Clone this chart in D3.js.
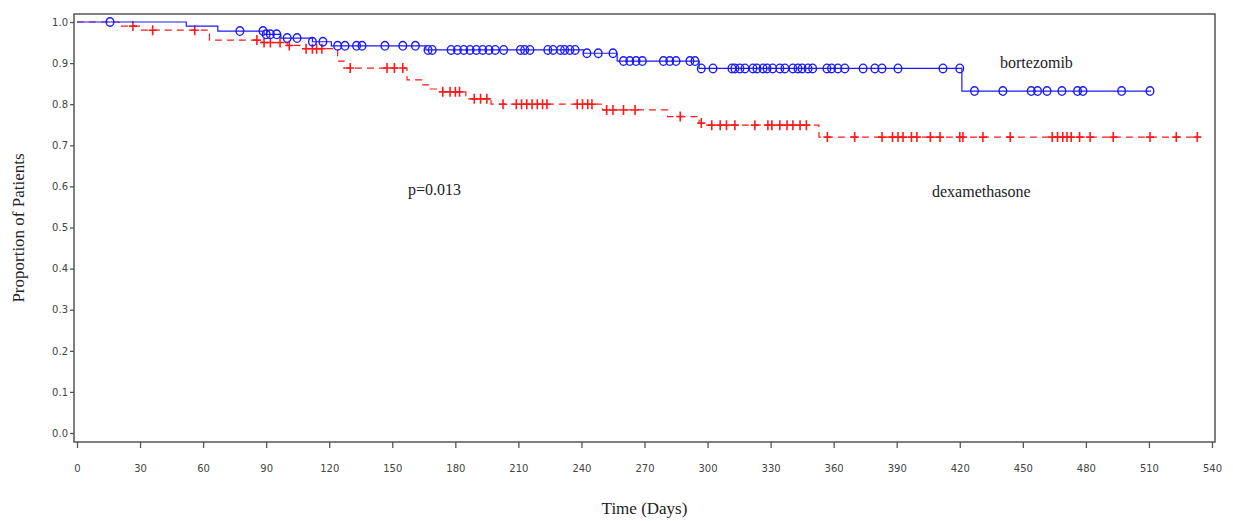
<!DOCTYPE html>
<html>
<head>
<meta charset="utf-8">
<script src="https://cdn.jsdelivr.net/npm/d3@7"></script>
<style>
  body { margin: 0; background: #fff; }
  .tick text { font-family: "DejaVu Sans", Verdana, sans-serif; font-size: 10px; fill: #444; }
  .lbl { font-family: "Liberation Serif", "Times New Roman", serif; font-size: 16px; fill: #222; }
</style>
</head>
<body>
<div id="root"></div>
<script>
// Kaplan-Meier steps: [day, proportion]
const bortezomibSteps = [
  [0, 1.0], [52, 0.99], [67, 0.978], [89, 0.97], [97, 0.961], [112, 0.952],
  [121, 0.942], [166, 0.932], [241, 0.924], [257, 0.905], [296, 0.887], [421, 0.832]
];
const bortezomibEnd = 511;
const bortezomibCensored = [
  15.7, 77.5, 88.5, 90, 92, 95, 100, 104.7, 112, 117, 124, 127.5, 133, 135.6, 146.5, 155, 161,
  167, 169, 178, 181, 184, 187, 190, 193, 196, 199, 203, 211, 213, 215.5, 224, 226.5, 230,
  232, 234.5, 237, 242.6, 248, 255, 260, 263, 266, 269, 279, 282, 285, 291.6, 294, 297,
  302.6, 311.6, 313, 315.4, 317.8, 321.6, 323.5, 326.4, 328.3, 331, 334.4, 336.8, 340.6,
  343, 345, 347.8, 350, 356.8, 359, 362, 365.3, 374, 379.6, 383, 390.6, 412, 420, 427,
  440.5, 454, 457, 461.5, 468.6, 476, 478.6, 497, 510.5
];

const dexamethasoneSteps = [
  [0, 1.0], [20, 0.99], [30, 0.98], [63, 0.956], [88, 0.95], [100, 0.943], [106, 0.935],
  [124, 0.905], [127, 0.888], [157, 0.859], [164, 0.847], [168, 0.837], [174, 0.83],
  [185, 0.813], [197, 0.80], [250, 0.786], [281, 0.77], [296, 0.754], [299, 0.749], [353, 0.72]
];
const dexamethasoneEnd = 534;
const dexamethasoneCensored = [
  26.6, 36, 56, 85.6, 89, 92, 96.6, 101, 109, 112, 114, 116.5, 130, 147.5, 151, 155, 174,
  177.5, 180, 182, 189, 192, 195, 202.7, 209, 211.5, 214, 216.5, 219, 221.5, 223.6, 238,
  240.5, 243, 245, 252, 255, 260, 265.5, 287, 297, 302, 306, 309, 313, 322.5, 328.7,
  330.6, 334.4, 337.8, 340.6, 344, 347, 357, 370, 383, 388, 390.6, 393, 397, 399.6, 406,
  410.6, 420, 421.5, 431, 444, 464, 466.5, 469, 471, 473, 477, 482, 493, 510.5, 523, 533
];

const xTicks = d3.range(0, 541, 30);
const yTicks = d3.range(0, 11).map(d => d / 10);

const frame = { left: 74, right: 1215, top: 14, bottom: 442 };

const x = d3.scaleLinear().domain([0, 540]).range([77, 1212]);
const y = d3.scaleLinear().domain([0, 1]).range([433, 22]);

const svg = d3.select("#root")
  .append("svg")
    .attr("width", 1233)
    .attr("height", 521);

// frame
svg.append("rect")
    .attr("x", frame.left)
    .attr("y", frame.top)
    .attr("width", frame.right - frame.left)
    .attr("height", frame.bottom - frame.top)
    .attr("fill", "none")
    .attr("stroke", "#555")
    .attr("stroke-width", 1.5);

// axes
const xAxis = svg.append("g")
    .attr("transform", `translate(0, ${frame.bottom})`)
    .call(d3.axisBottom(x).tickValues(xTicks).tickSize(6).tickPadding(17).tickFormat(d3.format("d")));
xAxis.select(".domain").remove();
xAxis.selectAll(".tick line").attr("stroke", "#555").attr("stroke-width", 1.3);

const yAxis = svg.append("g")
    .attr("transform", `translate(${frame.left}, 0)`)
    .call(d3.axisLeft(y).tickValues(yTicks).tickSize(4).tickPadding(2).tickFormat(d3.format(".1f")));
yAxis.select(".domain").remove();
yAxis.selectAll(".tick line").attr("stroke", "#555").attr("stroke-width", 1.3);

// titles
svg.append("text")
    .attr("class", "lbl")
    .text("Time (Days)")
    .attr("transform", `translate(${(frame.left + frame.right) / 2}, 514)`)
    .attr("text-anchor", "middle")
    .style("font-size", "17px");
svg.append("text")
    .attr("class", "lbl")
    .text("Proportion of Patients")
    .attr("transform", `translate(24, ${(frame.top + frame.bottom) / 2})rotate(-90)`)
    .attr("text-anchor", "middle")
    .style("font-size", "17px");

const stepLine = d3.line()
  .x(d => x(d[0]))
  .y(d => y(d[1]))
  .curve(d3.curveStepAfter);

function survAt(steps, t) {
  let v = steps[0][1];
  steps.forEach(s => { if (s[0] <= t) v = s[1]; });
  return v;
}

// dexamethasone
const redColor = "#ff1a1a";
const redPts = dexamethasoneSteps.concat([[dexamethasoneEnd, survAt(dexamethasoneSteps, dexamethasoneEnd)]]);
svg.append("path")
    .attr("d", stepLine(redPts))
    .attr("fill", "none")
    .attr("stroke", redColor)
    .attr("stroke-width", 1.2)
    .attr("stroke-dasharray", "7,5");
svg.append("g")
  .selectAll("path")
  .data(dexamethasoneCensored)
  .join("path")
    .attr("d", "M-4,0H4M0,-5V5")
    .attr("transform", d => `translate(${x(d)}, ${y(survAt(dexamethasoneSteps, d))})`)
    .attr("fill", "none")
    .attr("stroke", redColor)
    .attr("stroke-width", 1.6);

// bortezomib
const blueColor = "#1a1aff";
const bluePts = bortezomibSteps.concat([[bortezomibEnd, survAt(bortezomibSteps, bortezomibEnd)]]);
svg.append("path")
    .attr("d", stepLine(bluePts))
    .attr("fill", "none")
    .attr("stroke", blueColor)
    .attr("stroke-width", 1.2);
svg.append("g")
  .selectAll("ellipse")
  .data(bortezomibCensored)
  .join("ellipse")
    .attr("cx", d => x(d))
    .attr("cy", d => y(survAt(bortezomibSteps, d)))
    .attr("rx", 3.8)
    .attr("ry", 4.3)
    .attr("fill", "none")
    .attr("stroke", blueColor)
    .attr("stroke-width", 1.4);

// annotations
svg.append("text").attr("class", "lbl").text("bortezomib")
    .attr("x", 1000).attr("y", 68);
svg.append("text").attr("class", "lbl").text("p=0.013")
    .attr("x", 408).attr("y", 195);
svg.append("text").attr("class", "lbl").text("dexamethasone")
    .attr("x", 932).attr("y", 197);
</script>
</body>
</html>
